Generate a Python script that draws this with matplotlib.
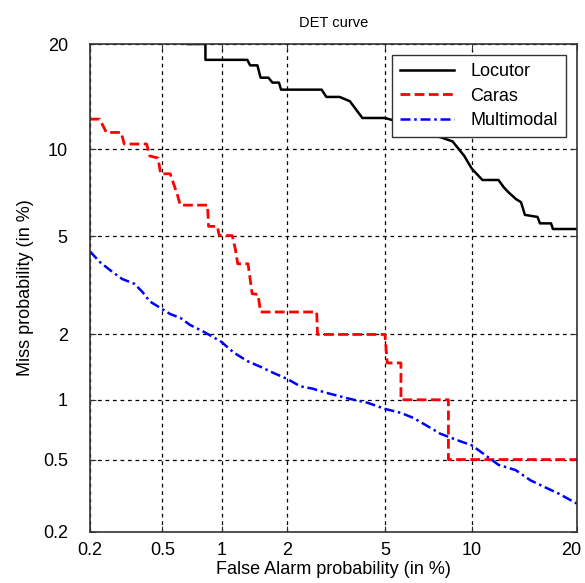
import math
import numpy as np
import matplotlib
matplotlib.use("Agg")
import matplotlib.pyplot as plt
from matplotlib.transforms import ScaledTranslation

# ---------------- data (percent) ----------------
locutor_fa = [0.67, 0.83, 0.83, 1.32, 1.36, 1.47, 1.52, 1.65, 1.72, 1.84, 1.88, 2.81, 2.94, 3.33,
              3.66, 4.10, 5.0, 5.37, 5.50, 7.27, 8.66, 9.02, 9.46, 10.0, 10.8, 12.1, 12.55, 12.96,
              13.65, 14.1, 14.47, 15.7, 15.95, 17.1, 17.3, 20.0]
locutor_miss = [20.0, 20.0, 18.2, 18.2, 17.6, 17.6, 16.3, 16.3, 15.8, 15.8, 15.1, 15.1, 14.4, 14.4,
                14.0, 12.5, 12.5, 12.3, 11.6, 11.2, 10.6, 10.1, 9.53, 8.66, 7.94, 7.94, 7.5, 7.21,
                6.82, 6.66, 6.0, 5.9, 5.59, 5.59, 5.33, 5.33]

caras_fa = [0.2, 0.227, 0.248, 0.30, 0.312, 0.413, 0.429, 0.475, 0.49, 0.55, 0.60, 0.62, 0.85,
            0.86, 0.95, 0.97, 1.12, 1.16, 1.19, 1.33, 1.39, 1.48, 1.52, 2.68, 2.7, 5.0, 5.1,
            5.73, 5.73, 8.39, 8.39, 20.0]
caras_miss = [12.4, 12.4, 11.3, 11.3, 10.4, 10.4, 9.53, 9.38, 8.33, 8.33, 7.04, 6.5, 6.5,
              5.45, 5.45, 5.04, 5.04, 4.47, 3.93, 3.93, 2.98, 2.96, 2.5, 2.5, 2.0, 2.0, 1.49,
              1.49, 1.0, 1.0, 0.5, 0.5]

multi_fa = [0.2, 0.227, 0.268, 0.304, 0.355, 0.392, 0.429, 0.5, 0.55, 0.62, 0.695, 0.81, 0.99,
            1.14, 1.32, 1.52, 1.74, 2.02, 2.28, 2.58, 2.94, 3.33, 3.66, 4.30, 5.0, 5.73, 6.35,
            7.1, 7.87, 9.02, 10.0, 10.9, 12.1, 13.6, 15.0, 16.5, 17.9, 20.0]
multi_miss = [4.39, 4.0, 3.65, 3.42, 3.27, 3.03, 2.77, 2.57, 2.45, 2.36, 2.2, 2.06, 1.86,
              1.66, 1.52, 1.43, 1.34, 1.25, 1.16, 1.13, 1.08, 1.04, 1.01, 0.967, 0.903, 0.863,
              0.815, 0.744, 0.68, 0.628, 0.593, 0.535, 0.469, 0.44, 0.388, 0.355, 0.329, 0.289]

tick_vals = [0.2, 0.5, 1, 2, 5, 10, 20]
tick_labels = ["0.2", "0.5", "1", "2", "5", "10", "20"]


# ---------------- normal deviate scale ----------------
_a = [-3.969683028665376e+01, 2.209460984245205e+02, -2.759285104469687e+02,
      1.383577518672690e+02, -3.066479806614716e+01, 2.506628277459239e+00]
_b = [-5.447609879822406e+01, 1.615858368580409e+02, -1.556989798598866e+02,
      6.680131188771972e+01, -1.328068155288572e+01]
_c = [-7.784894002430293e-03, -3.223964580411365e-01, -2.400758277161838e+00,
      -2.549671010605496e+00, 4.374664141464968e+00, 2.938163982698783e+00]
_d = [7.784695709041462e-03, 3.224671290700398e-01, 2.445134137142996e+00,
      3.754408661907416e+00]


def _ppf(p):
    p = np.clip(np.asarray(p, dtype=float), 1e-12, 1 - 1e-12)
    plow = 0.02425
    ql = np.sqrt(-2 * np.log(p))
    xl = (((((_c[0]*ql+_c[1])*ql+_c[2])*ql+_c[3])*ql+_c[4])*ql+_c[5]) / \
         ((((_d[0]*ql+_d[1])*ql+_d[2])*ql+_d[3])*ql+1)
    qu = np.sqrt(-2 * np.log(1 - p))
    xu = -(((((_c[0]*qu+_c[1])*qu+_c[2])*qu+_c[3])*qu+_c[4])*qu+_c[5]) / \
         ((((_d[0]*qu+_d[1])*qu+_d[2])*qu+_d[3])*qu+1)
    q = p - 0.5
    r = q * q
    xc = (((((_a[0]*r+_a[1])*r+_a[2])*r+_a[3])*r+_a[4])*r+_a[5])*q / \
         (((((_b[0]*r+_b[1])*r+_b[2])*r+_b[3])*r+_b[4])*r+1)
    return np.where(p < plow, xl, np.where(p > 1 - plow, xu, xc))


_erf = np.vectorize(math.erf, otypes=[float])


def forward(v):
    return _ppf(np.asarray(v, dtype=float) / 100.0)


def inverse(z):
    z = np.asarray(z, dtype=float)
    z = np.nan_to_num(z, nan=0.0, posinf=10, neginf=-10)
    return 100.0 * 0.5 * (1 + _erf(z / math.sqrt(2)))


plt.rcParams['font.family'] = ['Liberation Sans', 'DejaVu Sans']

fig = plt.figure(figsize=(5.85, 5.83), dpi=100)
ax = fig.add_axes([90/585, 51/583, 487/585, 488/583])
ax.set_xscale('function', functions=(forward, inverse))
ax.set_yscale('function', functions=(forward, inverse))

ax.plot(locutor_fa, locutor_miss, color='black', lw=1.8, ls='-', label='Locutor')
ax.plot(caras_fa, caras_miss, color='red', lw=2.0, ls=(0, (3.5, 1.6)), label='Caras')
ax.plot(multi_fa, multi_miss, color='blue', lw=1.8, ls=(0, (4, 1.5, 1, 1.5)), label='Multimodal')

ax.set_xlim(0.2, 20)
ax.set_ylim(0.2, 20)
ax.set_xticks(tick_vals)
ax.set_xticklabels(tick_labels)
ax.set_yticks(tick_vals)
ax.set_yticklabels(tick_labels)
ax.minorticks_off()
ax.tick_params(direction='in', length=4, top=True, right=True, labelsize=13,
               color='#333333')
ax.tick_params(axis='x', pad=7)
ax.tick_params(axis='y', pad=16)
# keep the last x tick label inside the figure, as in the reference
xlabels = ax.get_xticklabels()
xlabels[-1].set_transform(xlabels[-1].get_transform() +
                          ScaledTranslation(-6/100, 0, fig.dpi_scale_trans))
ax.grid(True, color='black', ls=(0, (3, 3)), lw=0.9)
for s in ax.spines.values():
    s.set_color('#333333')
    s.set_linewidth(1.2)

ax.set_xlabel('False Alarm probability (in %)', fontsize=13, labelpad=2)
ax.set_ylabel('Miss probability (in %)', fontsize=13, labelpad=6)
ax.set_title('DET curve', fontsize=10.5, pad=12)

leg = ax.legend(loc='upper right', fontsize=13, fancybox=False, framealpha=1,
                edgecolor='#333333', handlelength=3.0, borderpad=0.45,
                labelspacing=0.42, handletextpad=0.9, borderaxespad=0.6)
leg.get_frame().set_linewidth(1.0)

fig.savefig('out.png', dpi=100)
